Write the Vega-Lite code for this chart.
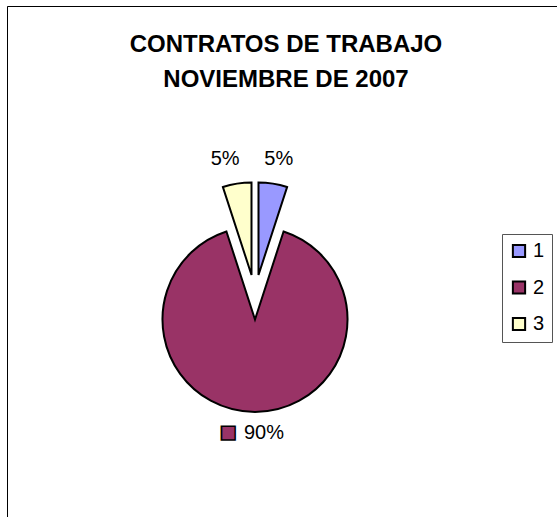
{
  "$schema": "https://vega.github.io/schema/vega-lite/v6.json",
  "width": 550,
  "height": 511,
  "autosize": "none",
  "padding": {"left": 7, "top": 6, "right": 0, "bottom": 0},
  "background": "white",
  "view": {"stroke": "black", "strokeWidth": 1, "strokeDash": [550, 1061, 511]},
  "config": {
    "view": {"stroke": null},
    "font": "Liberation Sans",
    "legend": {
      "orient": "none",
      "legendX": 495,
      "legendY": 228,
      "symbolType": "square",
      "symbolSize": 150,
      "symbolStrokeColor": "black",
      "symbolStrokeWidth": 2,
      "labelFontSize": 20,
      "labelFont": "Liberation Sans",
      "labelColor": "black",
      "strokeColor": "#555555",
      "padding": 7,
      "rowPadding": 14.5,
      "labelOffset": 4
    }
  },
  "title": {
    "text": ["CONTRATOS DE TRABAJO", "NOVIEMBRE DE 2007"],
    "font": "Liberation Sans",
    "fontSize": 24,
    "fontWeight": "bold",
    "color": "black",
    "lineHeight": 35,
    "anchor": "middle",
    "baseline": "top",
    "offset": -86,
    "dx": 4
  },
  "data": {
    "values": [
      {"cat": "1", "value": 5, "label": "5%"},
      {"cat": "2", "value": 90, "label": "90%"},
      {"cat": "3", "value": 5, "label": "5%"}
    ]
  },
  "encoding": {
    "theta": {"field": "value", "type": "quantitative", "stack": true},
    "order": {"field": "cat", "type": "ordinal"}
  },
  "layer": [
    {
      "mark": {"type": "arc", "outerRadius": 92.5, "stroke": "black", "strokeWidth": 2, "xOffset": -23.5, "yOffset": 13.5},
      "encoding": {
        "color": {"field": "cat", "type": "nominal", "scale": {"domain": ["1", "2", "3"], "range": ["#9999FF", "#993366", "#FFFFCC"]}, "legend": {"title": null}},
        "opacity": {"condition": {"test": "datum.cat == '1'", "value": 1}, "value": 0}
      }
    },
    {
      "mark": {"type": "arc", "outerRadius": 92.5, "stroke": "black", "strokeWidth": 2, "xOffset": -27, "yOffset": 58},
      "encoding": {
        "color": {"field": "cat", "type": "nominal"},
        "opacity": {"condition": {"test": "datum.cat == '2'", "value": 1}, "value": 0}
      }
    },
    {
      "mark": {"type": "arc", "outerRadius": 92.5, "stroke": "black", "strokeWidth": 2, "xOffset": -30.5, "yOffset": 13.5},
      "encoding": {
        "color": {"field": "cat", "type": "nominal"},
        "opacity": {"condition": {"test": "datum.cat == '3'", "value": 1}, "value": 0}
      }
    },
    {
      "mark": {"type": "text", "radius": 139.4, "dx": -25, "dy": 35.5, "fontSize": 20, "font": "Liberation Sans", "fill": "black", "baseline": "middle", "align": "center"},
      "encoding": {
        "text": {"field": "label"},
        "opacity": {"condition": {"test": "datum.cat == '1'", "value": 1}, "value": 0}
      }
    },
    {
      "mark": {"type": "text", "radius": 139.5, "dx": -35, "dy": 35.5, "fontSize": 20, "font": "Liberation Sans", "fill": "black", "baseline": "middle", "align": "center"},
      "encoding": {
        "text": {"field": "label"},
        "opacity": {"condition": {"test": "datum.cat == '3'", "value": 1}, "value": 0}
      }
    },
    {
      "mark": {"type": "text", "radius": 135.5, "dx": -18, "dy": 35.5, "fontSize": 20, "font": "Liberation Sans", "fill": "black", "baseline": "middle", "align": "center"},
      "encoding": {
        "text": {"field": "label"},
        "opacity": {"condition": {"test": "datum.cat == '2'", "value": 1}, "value": 0}
      }
    },
    {
      "mark": {"type": "text", "radius": 136, "dx": -54, "dy": 35.5, "fontSize": 18, "font": "DejaVu Sans", "stroke": "black", "strokeWidth": 1.6, "baseline": "middle", "align": "center"},
      "encoding": {
        "color": {"field": "cat", "type": "nominal"},
        "text": {"value": "■"},
        "opacity": {"condition": {"test": "datum.cat == '2'", "value": 1}, "value": 0}
      }
    }
  ]
}
